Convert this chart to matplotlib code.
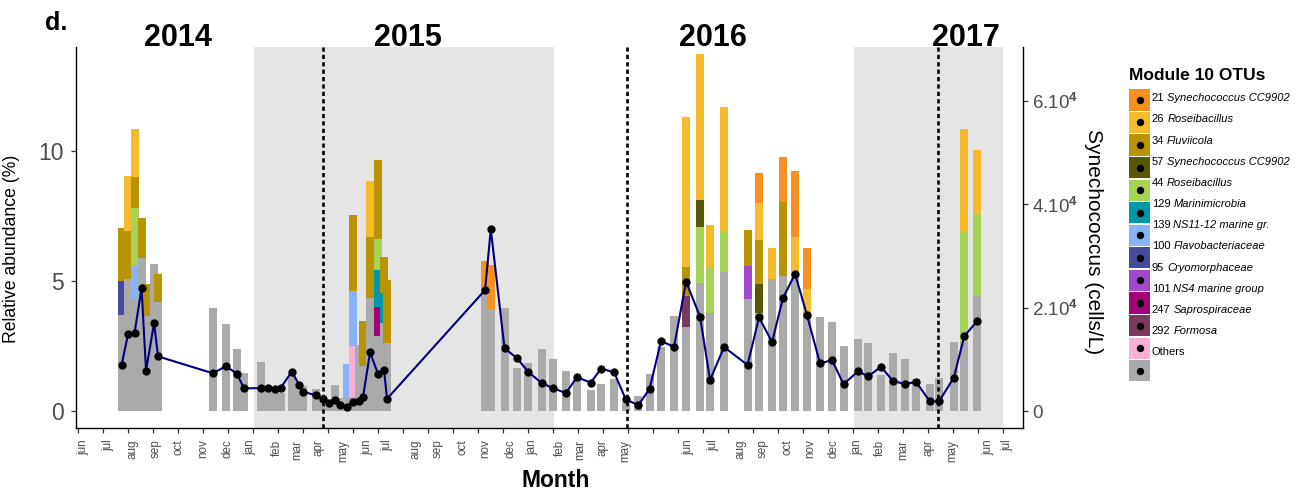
import matplotlib
matplotlib.use("Agg")
import matplotlib.pyplot as plt
from matplotlib.patches import Rectangle
from matplotlib.transforms import blended_transform_factory

plt.rcParams['font.family'] = ['Liberation Sans', 'DejaVu Sans']
plt.rcParams['mathtext.fontset'] = 'custom'
plt.rcParams['mathtext.rm'] = 'Liberation Sans'
plt.rcParams['mathtext.bf'] = 'Liberation Sans:bold'

W, H = 1297, 493

# x position of each sample, in units of the month tick grid (tick 0 = jun 2014)
sample_pos = [1.73, 1.99, 2.25, 2.53, 2.71, 3.03, 3.19, 5.39, 5.91, 6.35, 6.63,
              7.31, 7.60, 7.87, 8.10, 8.54, 8.84, 9.00, 9.51, 9.79, 10.01, 10.27,
              10.47, 10.75, 10.97, 11.24, 11.39, 11.67, 11.99, 12.23, 12.35,
              16.27, 16.50, 17.05, 17.54, 18.00, 18.53, 19.00,
              19.51, 19.94, 20.50, 20.91, 21.43, 21.90, 22.40, 22.85, 23.31, 23.83,
              24.31, 24.87, 25.27, 25.83, 26.77, 27.23, 27.75, 28.19, 28.67, 29.15,
              29.67, 30.15, 30.61, 31.19, 31.59, 32.11, 32.59, 33.07, 33.51, 34.06,
              34.43, 35.02, 35.44, 35.96]

# relative abundance (%) of the grey "Others" part
others = [3.69, 5.07, 4.27, 5.90, 3.67, 5.65, 4.19, 3.96, 3.35, 2.38, 1.46,
          1.87, 0.85, 0.80, 0.70, 1.45, 0.93, 0.96, 0.86, 0.60, 0.35, 1.00,
          0.50, 0.55, 0.55, 2.54, 1.74, 4.36, 2.88, 3.37, 2.63,
          4.70, 3.92, 3.96, 1.67, 1.85, 2.38, 2.00,
          1.54, 1.19, 0.81, 1.04, 1.23, 0.36, 0.58, 1.44, 2.47, 3.67,
          3.24, 4.94, 3.78, 5.36, 4.31, 3.78, 5.09, 5.19, 5.32, 3.76,
          3.63, 3.42, 2.50, 2.78, 2.62, 1.40, 2.23, 2.00, 1.23, 1.04,
          1.27, 2.65, 2.65, 4.42]

# Synechococcus counts (cells/L)
syn_cells = [8850, 14890, 15090, 23740, 7800, 17000, 10560, 7290, 8700, 7140, 4380,
             4430, 4530, 4280, 4530, 7600, 5030, 3720, 3020, 2260, 1510, 2110,
             1160, 860, 1760, 1860, 2720, 11320, 7190, 7850, 2360,
             23390, 35160, 12120, 10260, 7550, 5430, 4380,
             3470, 6540, 5480, 8200, 7490, 2260, 1110, 4280, 13530, 12420,
             25000, 18260, 5990, 12370, 8900, 18110, 13330, 21880, 26510, 18510,
             9200, 9860, 5180, 7700, 6690, 8550, 5780, 5230, 5630, 1860,
             1860, 6440, 14490, 17400]

# module 10 OTUs: abundance (%) per sample position
otu_21 = {16.27: 1.07, 16.50: 1.70, 27.23: 1.15, 28.19: 1.73, 28.67: 2.54, 29.15: 1.58}
otu_26 = {1.99: 2.12, 2.25: 1.85, 11.67: 2.16, 24.31: 5.77, 24.87: 5.61, 25.27: 1.62,
          25.83: 4.75, 27.23: 1.42, 27.75: 1.18, 28.67: 1.37, 29.15: 0.93,
          35.44: 3.97, 35.96: 2.46}
otu_34 = {1.73: 2.03, 1.99: 1.85, 2.25: 1.20, 2.53: 1.53, 2.71: 1.21, 3.19: 1.08,
          10.97: 2.94, 11.39: 1.72, 11.67: 2.34, 11.99: 3.05, 12.23: 1.38, 12.35: 2.41,
          24.31: 1.10, 26.77: 1.37, 27.23: 1.70, 28.19: 2.85}
otu_57 = {24.87: 1.03, 27.23: 1.10}
otu_44 = {2.25: 2.20, 11.99: 1.18, 24.87: 2.15, 25.27: 1.75, 25.83: 1.58,
          35.44: 4.23, 35.96: 3.16}
otu_129 = {11.99: 1.41, 12.23: 1.17}
otu_139 = {2.25: 1.33, 10.75: 1.25, 10.97: 2.10}
otu_100 = {1.73: 1.31}
otu_95 = {26.77: 1.28}
otu_101 = {11.99: 1.13}
otu_247 = {24.31: 1.19}
otu_292 = {10.97: 1.95}

legend_labels = [("21", "Synechococcus CC9902"), ("26", "Roseibacillus"),
                 ("34", "Fluviicola"), ("57", "Synechococcus CC9902"),
                 ("44", "Roseibacillus"), ("129", "Marinimicrobia"),
                 ("139", "NS11-12 marine gr."), ("100", "Flavobacteriaceae"),
                 ("95", "Cryomorphaceae"), ("101", "NS4 marine group"),
                 ("247", "Saprospiraceae"), ("292", "Formosa"), ("Others", "")]
legend_colors = ['#F7901E', '#F6BB2A', '#B99300', '#585800', '#A6D355', '#0097A7',
                 '#86B3FA', '#454A9E', '#A348CE', '#A4007C', '#7A3A60', '#F8AFD5',
                 '#AAAAAA']

# stacking order, bottom to top (after grey)
stack = [(otu_292, '#F8AFD5'), (otu_247, '#7A3A60'), (otu_101, '#A4007C'),
         (otu_95, '#A348CE'), (otu_100, '#454A9E'), (otu_139, '#86B3FA'),
         (otu_129, '#0097A7'), (otu_44, '#A6D355'), (otu_57, '#585800'),
         (otu_34, '#B99300'), (otu_26, '#F6BB2A'), (otu_21, '#F7901E')]

month_labels = ['jun', 'jul', 'aug', 'sep', 'oct', 'nov', 'dec', 'jan', 'feb', 'mar',
                'apr', 'may', 'jun', 'jul', 'aug', 'sep', 'oct', 'nov', 'dec', 'jan',
                'feb', 'mar', 'apr', 'may', 'jun', 'jul', 'aug', 'sep', 'oct', 'nov',
                'dec', 'jan', 'feb', 'mar', 'apr', 'may', 'jun', 'jul']
month_pos = [0.19, 1.19, 2.15, 3.11, 3.99, 4.99, 5.95, 6.87, 7.95, 8.75,
             9.59, 10.59, 11.55, 12.35, 13.47, 14.39, 15.35, 16.27, 17.27, 18.15,
             19.27, 20.07, 20.95, 21.87, 24.39, 25.39, 26.47, 27.39, 28.35, 29.27,
             30.19, 31.15, 32.07, 32.99, 33.99, 34.95, 36.39, 37.15]

years = ['2014', '2015', '2016', '2017']
year_pos = [3.97, 13.19, 25.37, 35.51]
shaded = [(7.03, 19.03), (31.03, 36.99)]
year_lines = [9.78, 21.94, 34.40]

CELLS_PER_UNIT = 5030

fig = plt.figure(figsize=(W / 100, H / 100), dpi=100)
ax = fig.add_axes([76 / W, 1 - 427.7 / H, (1023.3 - 76) / W, (427.7 - 46.7) / H])
ax.set_xlim(-0.092, 37.8)
ax.set_ylim(-0.642, 14.01)

for x0, x1 in shaded:
    ax.axvspan(x0, x1, color='#E5E5E5', lw=0, zorder=0)

bw = 0.32
for i, p in enumerate(sample_pos):
    z = 2 + i * 0.01
    ax.bar(p, others[i], bw, color='#AAAAAA', lw=0, zorder=z)
    bottom = others[i]
    for d, c in stack:
        v = d.get(p, 0)
        if v:
            ax.bar(p, v, bw, bottom=bottom, color=c, lw=0, zorder=z)
            bottom += v

for xl in year_lines:
    ax.axvline(xl, color='black', lw=1.9, ls=(0, (1.6, 1.2)), zorder=3)

ax.spines['top'].set_visible(False)
ax.spines['right'].set_visible(False)
for s in ('left', 'bottom'):
    ax.spines[s].set_linewidth(1.0)
ax.set_yticks([0, 5, 10])
ax.tick_params(axis='y', labelsize=16.5, labelcolor='#4D4D4D', color='#333333',
               length=3.6, width=0.9, pad=5)
ax.set_xticks(range(38))
ax.set_xticklabels([])
ax.tick_params(axis='x', color='#333333', length=3.6, width=0.9)
ax.set_ylabel('Relative abundance (%)', fontsize=12.7)
ax.yaxis.set_label_coords(-0.0591, 0.469)

tr = blended_transform_factory(ax.transData, ax.transAxes)
for p, lab in zip(month_pos, month_labels):
    ax.text(p, -0.031, lab, transform=tr, rotation=90, ha='center', va='top',
            fontsize=8.4, color='#4D4D4D', clip_on=False)
for p, y in zip(year_pos, years):
    ax.text(p, 1.002, y, transform=tr, ha='center', va='baseline',
            fontsize=22, fontweight='bold', clip_on=False)

ax2 = ax.twinx()
lo, hi = ax.get_ylim()
ax2.set_ylim(lo * CELLS_PER_UNIT, hi * CELLS_PER_UNIT)
ax2.set_xlim(ax.get_xlim())
for s in ('top', 'left', 'bottom'):
    ax2.spines[s].set_visible(False)
ax2.spines['right'].set_linewidth(1.0)
ax2.set_yticks([0, 20000, 40000, 60000])
ax2.set_yticklabels(['0', r'2.10$^{\mathbf{4}}$', r'4.10$^{\mathbf{4}}$',
                     r'6.10$^{\mathbf{4}}$'])
ax2.tick_params(axis='y', labelsize=13.5, labelcolor='#4D4D4D', color='#333333',
                length=3.6, width=0.9, pad=2.5)
ax2.plot(sample_pos, syn_cells, color='#000080', lw=1.5, zorder=4)
ax2.scatter(sample_pos, syn_cells, s=36, color='black', lw=0, zorder=5)
ax2.set_ylabel('Synechococcus (cells/L)', fontsize=15, rotation=270, va='center')
ax2.yaxis.set_label_coords(1.0745, 0.488)

fig.text(556 / W, 1 - 487 / H, 'Month', ha='center', va='baseline',
         fontsize=16.5, fontweight='bold')
fig.text(45 / W, 1 - 30 / H, 'd.', ha='left', va='baseline',
         fontsize=18, fontweight='bold')

# legend, drawn in pixel coordinates on an overlay axes
lay = fig.add_axes([0, 0, 1, 1], facecolor='none')
lay.set_xlim(0, W)
lay.set_ylim(H, 0)
lay.axis('off')
lay.text(1129.3, 80.5, 'Module 10 OTUs', fontsize=12.5, fontweight='bold',
         ha='left', va='baseline')
for i, c in enumerate(legend_colors):
    top = 89.3 + 22.57 * i
    lay.add_patch(Rectangle((1129.3, top), 20.7, 21.2, color=c, lw=0))
    lay.plot(1139.7, top + 10.6, 'o', color='black', ms=4.3)
for i, (num, name) in enumerate(legend_labels):
    t = lay.text(1151.7, 98.3 + 21.17 * i, num, fontsize=8, ha='left', va='center')
    if name:
        lay.annotate(name, xy=(1, 0), xycoords=t, xytext=(2.2, 0),
                     textcoords='offset points', fontsize=8, style='italic',
                     ha='left', va='bottom')

fig.savefig('out.png', dpi=100)
